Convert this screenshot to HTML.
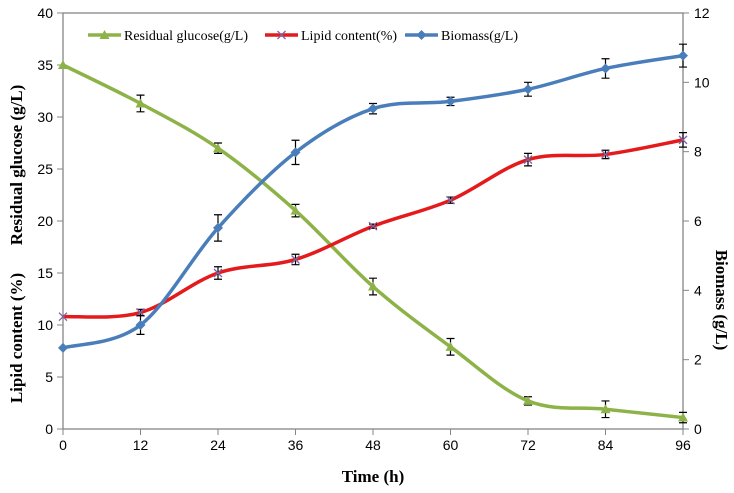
<!DOCTYPE html>
<html><head><meta charset="utf-8"><style>
body{margin:0;background:#fff}
svg{display:block}
.tk{font-family:"Liberation Sans",sans-serif;font-size:14px;fill:#000}
.tt{font-family:"Liberation Serif",serif;font-size:17px;font-weight:bold;fill:#000}
.lg{font-family:"Liberation Serif",serif;font-size:14px;fill:#000}
</style></head><body>
<svg id="c" width="734" height="493"></svg>
<script>
const hours=[0,12,24,36,48,60,72,84,96];
const xTicks=[0,12,24,36,48,60,72,84,96];
const yLeftTicks=[0,5,10,15,20,25,30,35,40];
const yRightTicks=[0,2,4,6,8,10,12];
const glucose=[35,31.3,27,21,13.7,7.9,2.7,1.9,1.1];
const glucoseErr=[0,0.8,0.5,0.6,0.8,0.8,0.4,0.8,0.5];
const lipid=[10.8,11.2,15,16.3,19.5,22,25.9,26.4,27.8];
const lipidErr=[0,0.3,0.6,0.5,0.2,0.3,0.6,0.4,0.7];
const biomass=[2.34,3.0,5.8,7.98,9.24,9.45,9.8,10.4,10.77];
const biomassErr=[0,0.27,0.38,0.35,0.15,0.12,0.2,0.28,0.33];

const L=63,R=683,T=13,B=429;
const X=v=>L+(v-0)/96*(R-L);
const YL=v=>B-v/40*(B-T);
const YR=v=>B-v/12*(B-T);
const svg=document.getElementById('c');
const NS='http://www.w3.org/2000/svg';
function mk(tag,attrs,parent){const e=document.createElementNS(NS,tag);for(const k in attrs)e.setAttribute(k,attrs[k]);(parent||svg).appendChild(e);return e;}

// frame
let fr=mk('rect',{x:L,y:T,width:R-L,height:B-T,fill:'none',stroke:'#868686','stroke-width':1.3});


// ticks
xTicks.forEach(v=>{
  mk('line',{x1:X(v),x2:X(v),y1:B,y2:B+6,stroke:'#868686'});
  let t=mk('text',{x:X(v),y:B+21,'text-anchor':'middle',class:'tk'});t.textContent=v;
  
  
});
yLeftTicks.forEach(v=>{
  mk('line',{x1:L-6,x2:L,y1:YL(v),y2:YL(v),stroke:'#868686'});
  let t=mk('text',{x:L-10,y:YL(v)+5,'text-anchor':'end',class:'tk'});t.textContent=v;
  
  
});
yRightTicks.forEach(v=>{
  mk('line',{x1:R,x2:R+6,y1:YR(v),y2:YR(v),stroke:'#868686'});
  let t=mk('text',{x:R+11,y:YR(v)+5,'text-anchor':'start',class:'tk'});t.textContent=v;
  
  
});
// titles
let xt=mk('text',{x:(L+R)/2,y:482,'text-anchor':'middle',class:'tt'});xt.textContent='Time (h)';


let y1=mk('text',{transform:'translate(22,165) rotate(-90)','text-anchor':'middle',class:'tt'});y1.textContent='Residual glucose (g/L)';


let y2=mk('text',{transform:'translate(22,338) rotate(-90)','text-anchor':'middle',class:'tt'});y2.textContent='Lipid content (%)';


let y3=mk('text',{transform:'translate(716,300) rotate(90)','text-anchor':'middle',class:'tt'});y3.textContent='Biomass (g/L)';



function smooth(pts){
  let d='M'+pts[0][0]+','+pts[0][1];
  for(let i=0;i<pts.length-1;i++){
    const p0=pts[i-1]||pts[i],p1=pts[i],p2=pts[i+1],p3=pts[i+2]||p2;
    const c1=[p1[0]+(p2[0]-p0[0])/6,p1[1]+(p2[1]-p0[1])/6];
    const c2=[p2[0]-(p3[0]-p1[0])/6,p2[1]-(p3[1]-p1[1])/6];
    d+=`C${c1[0]},${c1[1]} ${c2[0]},${c2[1]} ${p2[0]},${p2[1]}`;
  }
  return d;
}
function series(vals,errs,yf,color,marker,name){
  const g=mk('g',{});
  
  
  const pts=vals.map((v,i)=>[X(hours[i]),yf(v)]);
  mk('path',{d:smooth(pts),fill:'none',stroke:color,'stroke-width':3.5},g);
  vals.forEach((v,i)=>{
    const x=X(hours[i]);
    if(errs[i]>0){
      const a=yf(v+errs[i]),b=yf(v-errs[i]);
      mk('path',{d:`M${x},${a}V${b}M${x-4},${a}H${x+4}M${x-4},${b}H${x+4}`,stroke:'#000','stroke-width':1.2,fill:'none'},g);
    }
    const y=yf(v);let m;
    if(marker==='tri')m=mk('path',{d:`M${x},${y-5}L${x+5},${y+4}L${x-5},${y+4}Z`,fill:color},g);
    else if(marker==='dia')m=mk('path',{d:`M${x},${y-5}L${x+5},${y}L${x},${y+5}L${x-5},${y}Z`,fill:color},g);
    else m=mk('path',{d:`M${x-4},${y-4}L${x+4},${y+4}M${x-4},${y+4}L${x+4},${y-4}`,stroke:'#8064a2','stroke-width':1.3},g);
    
    
  });
}
series(glucose,glucoseErr,YL,'#8db348','tri','glucose');
series(lipid,lipidErr,YL,'#e41a1c','x','lipid');
series(biomass,biomassErr,YR,'#4a7ebb','dia','biomass');

// legend
const leg=[['Residual glucose(g/L)','#8db348','tri',88],['Lipid content(%)','#e41a1c','x',265],['Biomass(g/L)','#4a7ebb','dia',405]];
leg.forEach(([lab,col,mkr,x0])=>{
  const g=mk('g',{});
  
  
  const y=35;
  mk('line',{x1:x0,x2:x0+33,y1:y,y2:y,stroke:col,'stroke-width':3.5},g);
  const x=x0+16.5;
  if(mkr==='tri')mk('path',{d:`M${x},${y-5}L${x+5},${y+4}L${x-5},${y+4}Z`,fill:col},g);
  else if(mkr==='dia')mk('path',{d:`M${x},${y-5}L${x+5},${y}L${x},${y+5}L${x-5},${y}Z`,fill:col},g);
  else mk('path',{d:`M${x-4},${y-4}L${x+4},${y+4}M${x-4},${y+4}L${x+4},${y-4}`,stroke:'#8064a2','stroke-width':1.3},g);
  const t=mk('text',{x:x0+36,y:y+5,class:'lg'},g);t.textContent=lab;
});
</script>
</body></html>
